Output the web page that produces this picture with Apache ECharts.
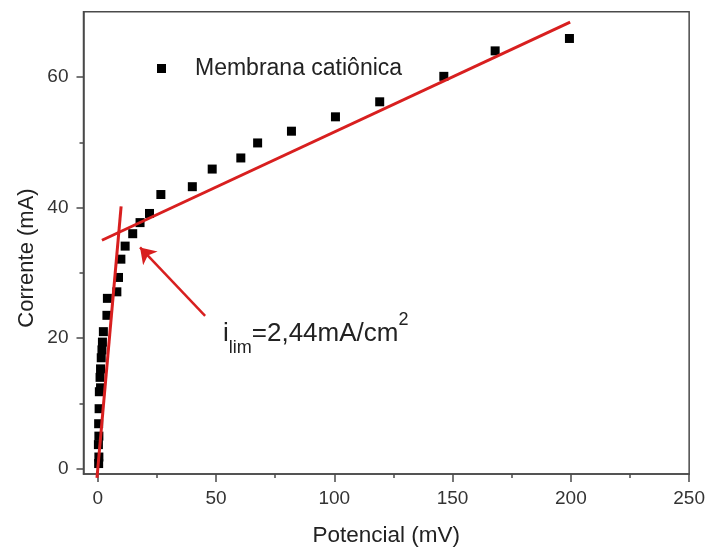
<!DOCTYPE html>
<html><head><meta charset="utf-8">
<script src="https://cdn.jsdelivr.net/npm/echarts@6/dist/echarts.min.js"></script>
<style>html,body{margin:0;padding:0;background:#fff}#c{width:708px;height:552px}</style>
</head><body><div id="c"></div>
<script>
const seriesName = 'Membrana catiônica';
const potencial = [0.4,0.5,0.3,0.5,0.4,0.6,0.7,1.2,1.0,1.2,1.5,1.8,2.0,2.4,3.9,4.1,8.1,8.8,9.8,11.6,14.8,17.9,21.9,26.7,40.0,48.4,60.5,67.6,81.9,100.5,119.2,146.3,168.0,199.4];
const corrente  = [0.8,1.8,3.7,5.0,6.9,9.2,11.8,12.4,14.0,15.3,17.0,18.2,19.4,21.0,23.5,26.1,27.1,29.3,32.1,34.1,36.0,37.7,39.1,42.0,43.2,45.9,47.6,49.9,51.7,53.9,56.2,60.1,64.0,65.9];
const fitSteepX = [-0.3, 9.9];
const fitSteepY = [-1.4, 40.2];
const fitFlatX = [1.8, 199.7];
const fitFlatY = [35.0, 68.4];
const arrowFrom = [45.4, 23.4];
const arrowTo = [17.9, 33.9];
const xTicks = [0,50,100,150,200,250];
const xMinorTicks = [25,75,125,175,225];
const yTicks = [0,20,40,60];
const yMinorTicks = [10,30,50];

const FONT = "'Liberation Sans', Arial, sans-serif";
const AX = '#4a4a4a';
const RED = '#d81f1f';
const xMin = -6, xMax = 250, yMin = -0.8, yMax = 70;

const zip = (a, b) => a.map((v, i) => [v, b[i]]);

const chart = echarts.init(document.getElementById('c'));
chart.setOption({
  animation: false,
  backgroundColor: '#fff',
  grid: { left: 83.5, right: 17.3, top: 11.7, bottom: 76.3, show: true, borderColor: AX, borderWidth: 1.5, backgroundColor: 'transparent' },
  legend: {
    data: [seriesName], left: 157, top: 57, padding: 0,
    itemWidth: 9, itemHeight: 9,
    itemStyle: { opacity: 1 },
    textStyle: { fontFamily: FONT, fontSize: 23, color: '#222', padding: [0,0,0,24] }
  },
  xAxis: [{
    type: 'value', min: xMin, max: xMax, position: 'bottom',
    axisLine: { show: true, onZero: false, lineStyle: { color: AX, width: 1.5 } },
    axisTick: { show: true, customValues: xTicks, length: 8, lineStyle: { color: AX, width: 1.5 } },
    axisLabel: { customValues: xTicks, fontFamily: FONT, fontSize: 19, color: '#333', margin: 15 },
    splitLine: { show: false },
    name: 'Potencial (mV)', nameLocation: 'middle', nameGap: 50,
    nameTextStyle: { fontFamily: FONT, fontSize: 22.5, color: '#222' }
  }, {
    type: 'value', min: xMin, max: xMax, position: 'bottom', gridIndex: 0,
    axisLine: { show: false, onZero: false },
    axisTick: { show: true, customValues: xMinorTicks, length: 4, lineStyle: { color: AX, width: 1.5 } },
    axisLabel: { show: false }, splitLine: { show: false }
  }],
  yAxis: [{
    type: 'value', min: yMin, max: yMax, position: 'left',
    axisLine: { show: true, onZero: false, lineStyle: { color: AX, width: 1.5 } },
    axisTick: { show: true, customValues: yTicks, length: 7, lineStyle: { color: AX, width: 1.5 } },
    axisLabel: { customValues: yTicks, fontFamily: FONT, fontSize: 19, color: '#333', margin: 15 },
    splitLine: { show: false }
  }, {
    type: 'value', min: yMin, max: yMax, position: 'left', gridIndex: 0,
    axisLine: { show: false, onZero: false },
    axisTick: { show: true, customValues: yMinorTicks, length: 4, lineStyle: { color: AX, width: 1.5 } },
    axisLabel: { show: false }, splitLine: { show: false }
  }],
  series: [
    {
      name: seriesName, type: 'scatter', xAxisIndex: 0, yAxisIndex: 0,
      symbol: 'rect', symbolSize: 9, itemStyle: { color: '#000', opacity: 1 },
      data: zip(potencial, corrente), z: 3
    },
    {
      name: 'fit1', type: 'line', xAxisIndex: 0, yAxisIndex: 0, clip: false,
      showSymbol: false, symbol: 'none', lineStyle: { color: RED, width: 3 },
      data: zip(fitSteepX, fitSteepY), z: 4
    },
    {
      name: 'fit2', type: 'line', xAxisIndex: 0, yAxisIndex: 0,
      showSymbol: false, symbol: 'none', lineStyle: { color: RED, width: 3 },
      data: zip(fitFlatX, fitFlatY), z: 4
    },
    {
      name: 'arrow', type: 'lines', coordinateSystem: 'cartesian2d', xAxisIndex: 0, yAxisIndex: 0,
      symbol: ['none', 'arrow'], symbolSize: 15,
      lineStyle: { color: RED, width: 2.5, opacity: 1 },
      data: [{ coords: [arrowFrom, arrowTo] }], z: 4
    }
  ],
  graphic: [
    {
      type: 'text', x: 27, y: 258, rotation: Math.PI / 2,
      style: { text: 'Corrente (mA)', fontFamily: FONT, fontSize: 22, fill: '#222', align: 'center', verticalAlign: 'middle' }
    },
    {
      type: 'text', x: 223, y: 334,
      style: {
        text: '{m|i}{s|lim}{m|=2,44mA/cm}{p|2}',
        align: 'left', verticalAlign: 'middle',
        rich: {
          m: { fontFamily: FONT, fontSize: 26, fill: '#222', lineHeight: 46, verticalAlign: 'middle' },
          s: { fontFamily: FONT, fontSize: 18, fill: '#222', lineHeight: 22, verticalAlign: 'bottom' },
          p: { fontFamily: FONT, fontSize: 18, fill: '#222', lineHeight: 22, verticalAlign: 'top' }
        }
      }
    }
  ]
});
</script></body></html>
